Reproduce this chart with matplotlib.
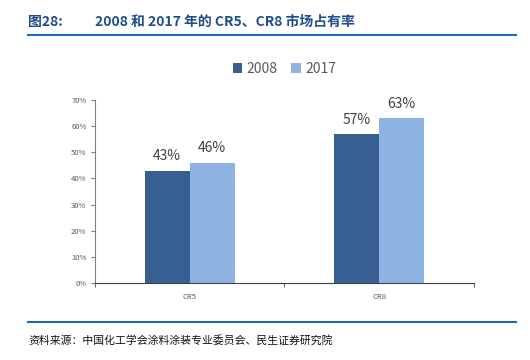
import numpy as np
import matplotlib.pyplot as plt
from matplotlib.ticker import PercentFormatter

plt.rcParams['font.family'] = ['Noto Sans CJK SC', 'DejaVu Sans']

categories = ["CR5", "CR8"]
years = ["2008", "2017"]
share_2008 = [0.43, 0.57]
share_2017 = [0.46, 0.63]
yticks = [0, 0.1, 0.2, 0.3, 0.4, 0.5, 0.6, 0.7]

dark = "#375F92"
light = "#8DB3E2"

fig = plt.figure(figsize=(5.3, 3.6), dpi=100)
ax = fig.add_axes([0.179, 0.214, 0.715, 0.508])

x = np.arange(len(categories))
w = 0.237
b1 = ax.bar(x - w / 2, share_2008, w, color=dark, label=years[0])
b2 = ax.bar(x + w / 2, share_2017, w, color=light, label=years[1])

for bars, vals in [(b1, share_2008), (b2, share_2017)]:
    for rect, v in zip(bars, vals):
        ax.text(rect.get_x() + rect.get_width() / 2, v + 0.028, "{:.0f}%".format(v * 100),
                ha="center", va="bottom", fontsize=10, color="#404040")

ax.set_xlim(-0.5, 1.5)
ax.set_ylim(0, 0.7)
ax.set_yticks(yticks)
ax.yaxis.set_major_formatter(PercentFormatter(1.0, decimals=0))
ax.set_xticks(x)
ax.set_xticklabels(categories)
ax.set_xticks([-0.5, 0.5, 1.5], minor=True)
ax.tick_params(axis="x", which="major", length=0, labelsize=5.5, labelcolor="#595959", pad=7)
ax.tick_params(axis="x", which="minor", length=3, color="#404040")
ax.tick_params(axis="y", length=3, labelsize=5.5, labelcolor="#595959", color="#808080", pad=3)

for s in ["top", "right"]:
    ax.spines[s].set_visible(False)
ax.spines["left"].set_color("#808080")
ax.spines["bottom"].set_color("#404040")

ax.legend(loc="center", bbox_to_anchor=(0.5, 1.17), ncol=2, frameon=False, fontsize=10,
          handlelength=0.7, handleheight=0.7, handletextpad=0.3, columnspacing=1.0,
          labelcolor="#595959")

# header and footer
fig.text(28 / 530, 1 - 22 / 360, "图28:", fontsize=10, fontweight="bold", color="#1F4E8C", va="center")
fig.text(95 / 530, 1 - 22 / 360, "2008 和 2017 年的 CR5、CR8 市场占有率", fontsize=10,
         fontweight="bold", color="#1F4E8C", va="center")
fig.add_artist(plt.Line2D([28 / 530, 516 / 530], [1 - 35 / 360] * 2, color="#1F6AB0", lw=1.5))
fig.add_artist(plt.Line2D([28 / 530, 516 / 530], [1 - 322 / 360] * 2, color="#1F6AB0", lw=1.5))
fig.text(28 / 530, 1 - 340 / 360, "资料来源：中国化工学会涂料涂装专业委员会、民生证券研究院", fontsize=7.8,
         color="#111111", va="center")

fig.savefig("out.png", dpi=100)
